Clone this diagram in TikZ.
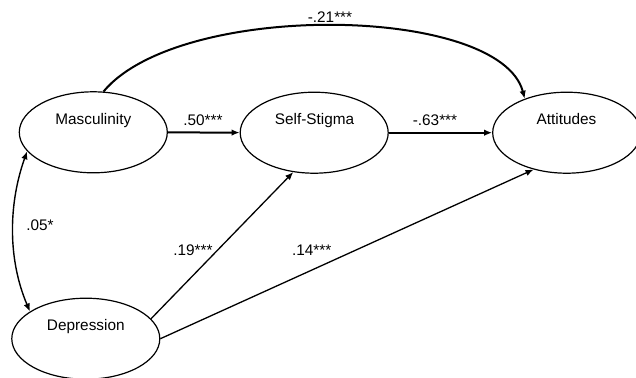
\documentclass[tikz,border=0pt]{standalone}
\usepackage{fontspec}
\setmainfont{Liberation Sans}
\usetikzlibrary{shapes.geometric,arrows.meta}
\begin{document}
\begin{tikzpicture}[x=1bp,y=-1bp,
  latent/.style={draw,ellipse,line width=1.2bp,minimum width=148bp,minimum height=81bp,inner sep=0pt},
  txt/.style={font=\fontsize{15.4}{18}\selectfont,inner sep=0pt,anchor=base},
  tip/.style={-{Latex[length=8bp,width=6.5bp]}},
  thin/.style={line width=1.3bp},
  thick2/.style={line width=2bp}]
\useasboundingbox (0,0) rectangle (636,377);
\node[latent] (masc) at (93.3,132.3) {};
\node[latent] (ss) at (314.2,132.7) {};
\node[latent] (att) at (566.7,132.7) {};
\node[latent] (dep) at (85.8,338.7) {};
\node[txt] (mascT) at (93.3,124) {Masculinity};
\node[txt] (ssT) at (314.5,124) {Self-Stigma};
\node[txt] (attT) at (566.5,124) {Attitudes};
\node[txt] (depT) at (85.8,330.3) {Depression};
% connectors
\draw[tip,thick2] (masc) -- (ss);
\draw[tip,thick2] (ss) -- (att);
\draw[tip,thick2] (masc.76) .. controls (180,0) and (500,5) .. (att.141);
\draw[{Latex[length=8bp,width=6.5bp]}-{Latex[length=8bp,width=6.5bp]},line width=1.4bp] (masc.196) .. controls (8,205) and (8,260) .. (dep.154);
\draw[tip,thin] (dep.17) -- (ss.242);
\draw[tip,thin] (dep.0) -- (att.228);
% labels
\node[txt] (l21) at (330,22.7) {-.21***};
\node[txt] (l50) at (203,125.5) {.50***};
\node[txt] (l63) at (435,125.5) {-.63***};
\node[txt] (l05) at (40,230) {.05*};
\node[txt] (l19) at (193,255) {.19***};
\node[txt] (l14) at (311.7,255) {.14***};
\end{tikzpicture}
\end{document}
